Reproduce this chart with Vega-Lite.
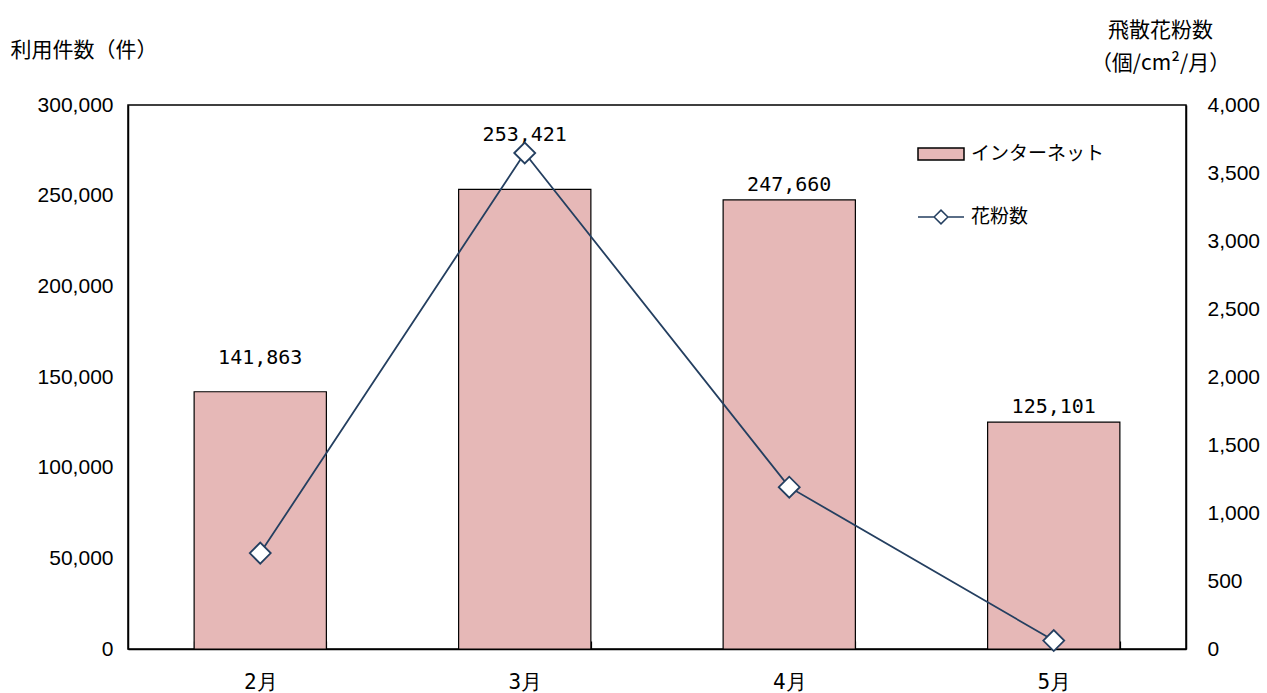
{
  "$schema": "https://vega.github.io/schema/vega-lite/v6.json",
  "width": 1058,
  "height": 544,
  "autosize": {"type": "none"},
  "padding": {"left": 128, "top": 105, "right": 81, "bottom": 44},
  "background": "white",
  "config": {
    "font": "Liberation Sans",
    "view": {"stroke": "black", "strokeWidth": 1.5},
    "axis": {"labelFont": "Liberation Sans", "titleFont": "Noto Sans CJK JP", "labelFontSize": 21, "titleFontSize": 21, "labelColor": "black", "titleColor": "black", "domainColor": "black", "tickColor": "black", "grid": false, "titleFontWeight": "normal"},
    "legend": {"labelFont": "Noto Sans CJK JP", "labelFontSize": 19, "labelColor": "black"}
  },
  "data": {"values": [
    {"month": "2月", "internet": 141863, "pollen": 705},
    {"month": "3月", "internet": 253421, "pollen": 3647},
    {"month": "4月", "internet": 247660, "pollen": 1190},
    {"month": "5月", "internet": 125101, "pollen": 62}
  ]},
  "encoding": {
    "x": {"field": "month", "type": "ordinal", "sort": null,
      "scale": {"paddingInner": 0.5, "paddingOuter": 0.25},
      "axis": {"title": null, "labelAngle": 0, "tickBand": "extent", "tickSize": -8, "tickWidth": 1.2, "labelPadding": 30, "domainWidth": 1.5, "labelFont": "DejaVu Sans Mono", "labelFontSize": 21}}
  },
  "layer": [
    {
      "mark": {"type": "bar", "stroke": "black", "strokeWidth": 1.2},
      "encoding": {
        "y": {"field": "internet", "type": "quantitative", "scale": {"domain": [0, 300000]},
          "axis": {"values": [0, 50000, 100000, 150000, 200000, 250000, 300000], "format": ",d", "tickSize": 0, "labelPadding": 15, "domainWidth": 1.5,
            "title": "利用件数（件）", "titleAngle": 0, "titleAlign": "left", "titleBaseline": "middle", "titleX": -118, "titleY": -55}},
        "fill": {"datum": "インターネット", "type": "nominal", "scale": {"range": ["#e6b8b7"]},
          "legend": {"title": null, "orient": "none", "legendX": 789, "legendY": 25, "symbolType": "M-1,-0.26H1V0.26H-1Z", "symbolSize": 2116, "symbolStrokeColor": "black", "symbolStrokeWidth": 1.5, "labelOffset": 6}}
      }
    },
    {
      "transform": [{"filter": "datum.month === '2月'"}],
      "mark": {"type": "text", "fontSize": 20, "font": "DejaVu Sans Mono", "color": "black", "dy": -34},
      "encoding": {
        "y": {"field": "internet", "type": "quantitative", "scale": {"domain": [0, 300000]}, "axis": null},
        "text": {"field": "internet", "type": "quantitative", "format": ",d"}
      }
    },
    {
      "transform": [{"filter": "datum.month === '3月'"}],
      "mark": {"type": "text", "fontSize": 20, "font": "DejaVu Sans Mono", "color": "black", "dy": -54},
      "encoding": {
        "y": {"field": "internet", "type": "quantitative", "scale": {"domain": [0, 300000]}, "axis": null},
        "text": {"field": "internet", "type": "quantitative", "format": ",d"}
      }
    },
    {
      "transform": [{"filter": "datum.month === '4月' || datum.month === '5月'"}],
      "mark": {"type": "text", "fontSize": 20, "font": "DejaVu Sans Mono", "color": "black", "dy": -15},
      "encoding": {
        "y": {"field": "internet", "type": "quantitative", "scale": {"domain": [0, 300000]}, "axis": null},
        "text": {"field": "internet", "type": "quantitative", "format": ",d"}
      }
    },
    {
      "mark": {"type": "line", "strokeWidth": 1.8},
      "encoding": {
        "y": {"field": "pollen", "type": "quantitative", "scale": {"domain": [0, 4000]},
          "axis": {"orient": "right", "values": [0, 500, 1000, 1500, 2000, 2500, 3000, 3500, 4000], "format": ",d", "tickSize": 0, "labelPadding": 21, "domainWidth": 1.5,
            "title": ["飛散花粉数", "（個/cm²/月）"], "titleAngle": 0, "titleAlign": "center", "titleBaseline": "top", "titleX": -26, "titleY": -86, "titleLineHeight": 33}},
        "stroke": {"datum": "花粉数", "type": "nominal", "scale": {"range": ["#243f60"]},
          "legend": {"title": null, "orient": "none", "legendX": 789, "legendY": 88, "symbolType": "M-1,0H-0.3M0.3,0H1M-0.3,0L0,-0.3L0.3,0L0,0.3Z", "symbolSize": 2116, "symbolFillColor": "white", "symbolStrokeWidth": 1.5, "labelOffset": 6}}
      }
    },
    {
      "mark": {"type": "point", "shape": "diamond", "filled": true, "fill": "white", "stroke": "#243f60", "strokeWidth": 1.8, "size": 440, "opacity": 1},
      "encoding": {
        "y": {"field": "pollen", "type": "quantitative", "scale": {"domain": [0, 4000]}, "axis": null}
      }
    }
  ],
  "resolve": {"scale": {"y": "independent"}}
}
